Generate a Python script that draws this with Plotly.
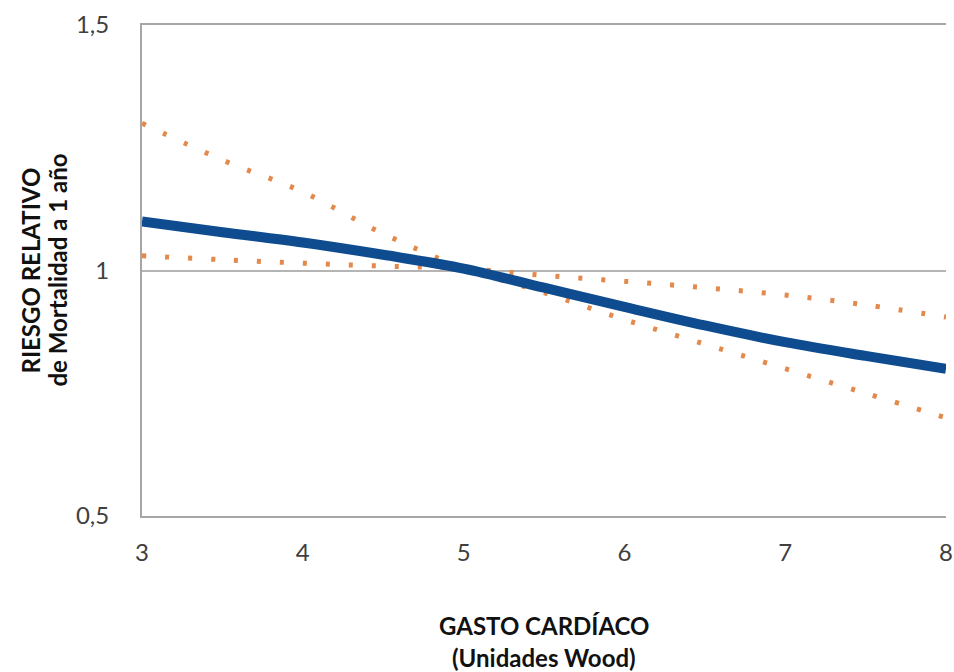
import plotly.graph_objects as go

gasto = [3, 3.5, 4, 4.5, 5, 5.5, 6, 6.5, 7, 7.5, 8]
riesgo = [1.10, 1.078, 1.057, 1.032, 1.004, 0.965, 0.926, 0.888, 0.854, 0.826, 0.80]
ic_a = [1.30, 1.225, 1.16, 1.075, 1.005, 0.955, 0.90, 0.85, 0.80, 0.75, 0.70]
ic_b = [1.03, 1.022, 1.015, 1.009, 1.004, 0.99, 0.978, 0.965, 0.95, 0.93, 0.905]

x_title = ["GASTO CARDÍACO", "(Unidades Wood)"]
y_title = ["RIESGO RELATIVO", "de Mortalidad a 1 año"]

orange = "#E3894B"
blue = "#0F4C8F"

fig = go.Figure()
for ic in (ic_a, ic_b):
    fig.add_trace(go.Scatter(x=gasto, y=ic, mode="lines", line=dict(color=orange, width=5, dash="4px,19px", shape="spline"), hoverinfo="skip"))
fig.add_trace(go.Scatter(x=gasto, y=riesgo, mode="lines", line=dict(color=blue, width=10, shape="spline")))

fam = "Lato, 'Open Sans', sans-serif"
font_t = dict(family=fam, size=24, color="#111111")
fig.update_layout(
    width=954, height=672,
    margin=dict(l=142, r=8, t=25, b=156, autoexpand=False),
    paper_bgcolor="white", plot_bgcolor="white",
    showlegend=False,
    separators=", ",
    font=dict(family=fam, size=24, color="#404040"),
)
fig.update_xaxes(
    range=[3, 8], tickvals=[3, 4, 5, 6, 7, 8], showgrid=False, zeroline=False, automargin=False,
    showline=True, mirror=True, linecolor="#A6A6A6", linewidth=2, ticks="", ticklabelstandoff=14,
    tickfont=dict(size=24, color="#404040"),
)
fig.update_yaxes(
    range=[0.5, 1.5], tickvals=[0.5, 1, 1.5], showgrid=True, gridcolor="#B4B4B4", gridwidth=1.5,
    zeroline=False, showline=True, linecolor="#A6A6A6", linewidth=2, ticks="", ticklabelstandoff=26,
    tickfont=dict(size=24, color="#404040"), automargin=False,
)
for txt, ys in zip(x_title, [-109, -141]):
    fig.add_annotation(text="<b>%s</b>" % txt, xref="paper", yref="paper", x=0.5, y=0,
                       xanchor="center", yanchor="middle", yshift=ys, showarrow=False, font=font_t)
for txt, xs in zip(y_title, [-112, -85]):
    fig.add_annotation(text="<b>%s</b>" % txt, xref="paper", yref="paper", x=0, y=0.5,
                       xanchor="center", yanchor="middle", xshift=xs, textangle=-90, showarrow=False, font=font_t)
fig.write_html("out.html", config={"displayModeBar": False},
               post_script="document.body.style.margin='0';")
